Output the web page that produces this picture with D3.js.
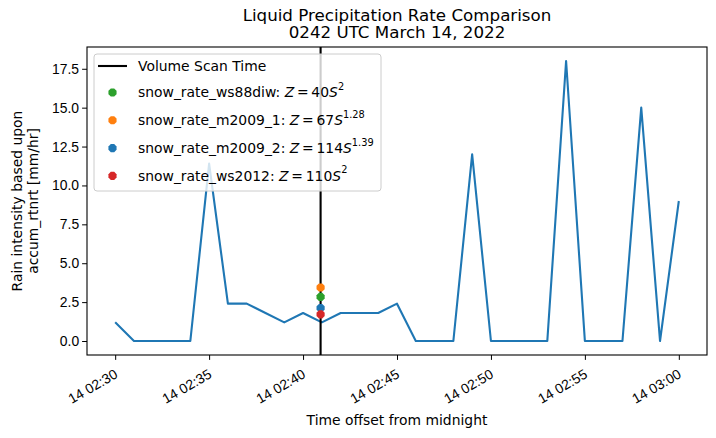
<!DOCTYPE html>
<html>
<head>
<meta charset="utf-8">
<script src="https://cdn.jsdelivr.net/npm/d3@7"></script>
<style>
  body { margin: 0; background: #fff; }
  svg { font-family: "DejaVu Sans", sans-serif; }
</style>
</head>
<body>
<svg width="716" height="438"></svg>
<script>
// rain rate every minute, 02:30 -> 03:00
const minutes = d3.range(0, 31);
const rainRate = [1.2, 0, 0, 0, 0, 11.4, 2.4, 2.4, 1.8, 1.2, 1.8, 1.2, 1.8, 1.8, 1.8, 2.4,
    0, 0, 0, 12, 0, 0, 0, 0, 18, 0, 0, 0, 15, 0, 9];

// snow rate estimates at the scan time
const scanTime = '2022-03-14T02:40:56';
const rateNames = ['snow_rate_ws88diw', 'snow_rate_m2009_1', 'snow_rate_m2009_2', 'snow_rate_ws2012'];
const rateValues = [2.84, 3.44, 2.12, 1.71];
const rateColors = ['#2ca02c', '#ff7f0e', '#1f77b4', '#d62728'];
const rateCoef = ['40', '67', '114', '110'];
const rateExp = ['2', '1.28', '1.39', '2'];

const yTicks = [0, 2.5, 5, 7.5, 10, 12.5, 15, 17.5];

const parseT = d3.timeParse('%Y-%m-%dT%H:%M:%S');
const t0 = parseT('2022-03-14T02:30:00');
const data = minutes.map((m, i) => ({ t: d3.timeMinute.offset(t0, m), v: rainRate[i] }));
const scan = parseT(scanTime);

const fs = 13.9; // 10pt at 100 dpi
const margin = { top: 47, right: 9, bottom: 83, left: 87 };
const width = 716 - margin.left - margin.right;
const height = 438 - margin.top - margin.bottom;

const svg = d3.select('svg');
const g = svg.append('g').attr('transform', `translate(${margin.left},${margin.top})`);

// 5% padding like matplotlib
const x = d3.scaleTime()
    .domain([d3.timeSecond.offset(t0, -90), d3.timeSecond.offset(t0, 31 * 60 + 30)])
    .range([0, width]);
const y = d3.scaleLinear().domain([-0.9, 18.9]).range([height, 0]);

// x axis
const xTicks = d3.range(0, 31, 5).map((m) => d3.timeMinute.offset(t0, m));
const xAxis = g.append('g')
    .attr('transform', `translate(0,${height})`)
    .call(d3.axisBottom(x).tickValues(xTicks).tickFormat(d3.timeFormat('%d %H:%M')).tickSize(4.9));
xAxis.selectAll('text')
    .attr('font-size', fs)
    .attr('fill', '#000')
    .attr('y', 0)
    .attr('dy', 0)
    .attr('text-anchor', 'end')
    .attr('transform', 'translate(3,22) rotate(-30)');

// y axis
const yAxis = g.append('g')
    .call(d3.axisLeft(y).tickValues(yTicks).tickFormat(d3.format('.1f')).tickSize(4.9).tickPadding(3));
yAxis.selectAll('text').attr('font-size', fs).attr('fill', '#000');

[xAxis, yAxis].forEach((a) => {
    a.select('.domain').remove();
    a.selectAll('line').attr('stroke', '#000').attr('stroke-width', 1);
});

// rain line
g.append('path')
    .datum(data)
    .attr('fill', 'none')
    .attr('stroke', '#1f77b4')
    .attr('stroke-width', 2.1)
    .attr('stroke-linejoin', 'round')
    .attr('d', d3.line().x((d) => x(d.t)).y((d) => y(d.v)));

// volume scan time
g.append('line')
    .attr('x1', x(scan)).attr('x2', x(scan))
    .attr('y1', 0).attr('y2', height)
    .attr('stroke', '#000').attr('stroke-width', 2.1);

// octagon marker
const octagon = (r) => d3.line()(d3.range(8).map((k) => {
    const a = Math.PI / 8 + k * Math.PI / 4;
    return [r * Math.cos(a), r * Math.sin(a)];
})) + 'Z';

rateValues.forEach((v, i) => {
    g.append('path')
        .attr('d', octagon(4.4))
        .attr('transform', `translate(${x(scan)},${y(v)})`)
        .attr('fill', rateColors[i]);
});

// frame
g.append('rect')
    .attr('width', width).attr('height', height)
    .attr('fill', 'none').attr('stroke', '#000').attr('stroke-width', 1.1);

// legend
const lg = g.append('g').attr('transform', 'translate(7,7)');
lg.append('rect')
    .attr('width', 287).attr('height', 137).attr('rx', 3)
    .attr('fill', '#fff').attr('fill-opacity', 0.8)
    .attr('stroke', '#ccc').attr('stroke-width', 1);
lg.append('line')
    .attr('x1', 4).attr('x2', 33).attr('y1', 12).attr('y2', 12)
    .attr('stroke', '#000').attr('stroke-width', 2.1);
lg.append('text')
    .attr('x', 44).attr('y', 12).attr('dy', '0.35em')
    .attr('font-size', fs)
    .text('Volume Scan Time');

rateNames.forEach((name, i) => {
    const yy = 38.5 + i * 27.8;
    lg.append('path')
        .attr('d', octagon(4.4))
        .attr('transform', `translate(18.5,${yy})`)
        .attr('fill', rateColors[i]);
    const t = lg.append('text')
        .attr('x', 44).attr('y', yy).attr('dy', '0.35em')
        .attr('font-size', fs);
    t.append('tspan').text(name + ': ');
    t.append('tspan').attr('font-style', 'italic').text('Z');
    t.append('tspan').text('\u2009=\u2009' + rateCoef[i]);
    t.append('tspan').attr('font-style', 'italic').text('S');
    t.append('tspan').attr('font-size', 9.8).attr('dy', '-0.75em').text(rateExp[i]);
});

// title
const title = svg.append('text')
    .attr('x', margin.left + width / 2).attr('y', 21)
    .attr('text-anchor', 'middle').attr('font-size', 16.7);
title.append('tspan').attr('x', margin.left + width / 2).text('Liquid Precipitation Rate Comparison');
title.append('tspan').attr('x', margin.left + width / 2).attr('dy', 17).text('0242 UTC March 14, 2022');

// axis labels
svg.append('text')
    .attr('x', margin.left + width / 2).attr('y', 425)
    .attr('text-anchor', 'middle').attr('font-size', fs)
    .text('Time offset from midnight');

const yl = svg.append('text')
    .attr('transform', `translate(22,${margin.top + height / 2}) rotate(-90)`)
    .attr('text-anchor', 'middle').attr('font-size', fs);
yl.append('tspan').attr('x', 0).text('Rain intensity based upon');
yl.append('tspan').attr('x', 0).attr('dy', 16).text('accum_rtnrt [mm/hr]');
</script>
</body>
</html>
